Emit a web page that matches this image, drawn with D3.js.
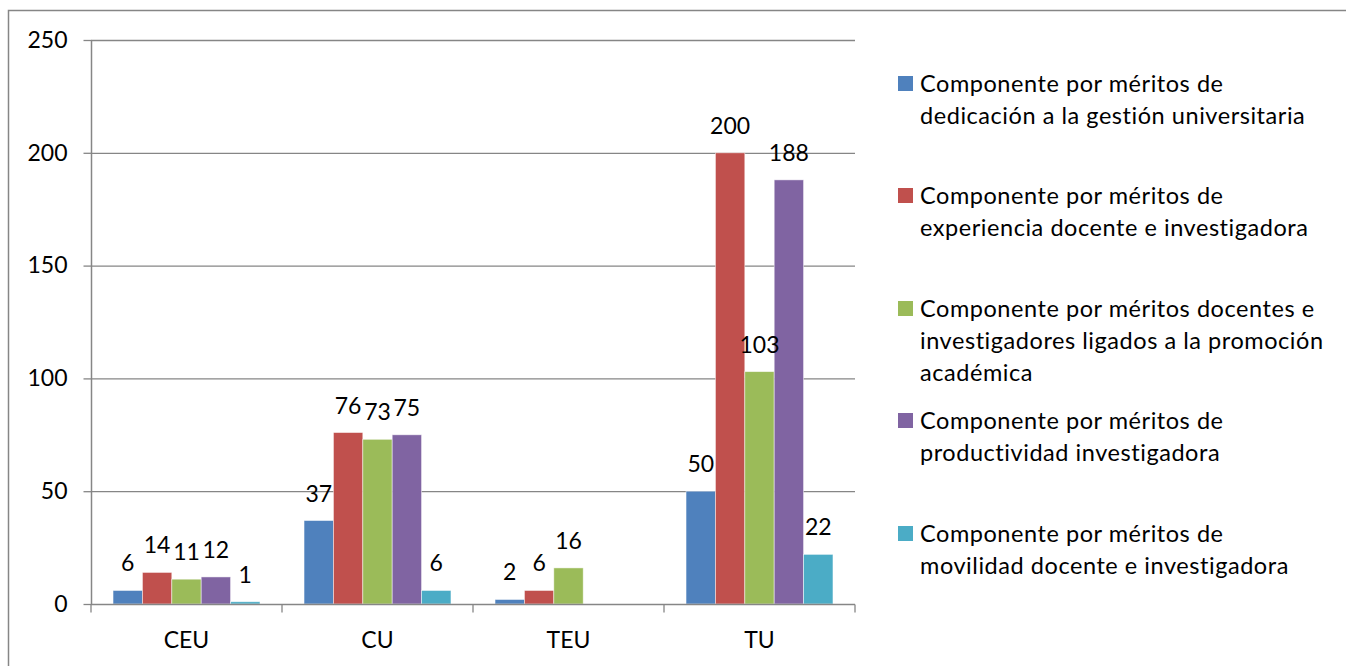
<!DOCTYPE html>
<html><head><meta charset="utf-8">
<script src="https://cdn.jsdelivr.net/npm/d3@7"></script>
<style>body{margin:0;background:#fff}svg{display:block}text{font-family:Lato,"Open Sans",sans-serif;fill:#000}</style>
</head><body><svg id="c" width="1346" height="666"></svg>
<script>
const categories = ["CEU","CU","TEU","TU"];
const seriesNames = [
  "Componente por méritos de\ndedicación a la gestión universitaria",
  "Componente por méritos de\nexperiencia docente e investigadora",
  "Componente por méritos docentes e\ninvestigadores ligados a la promoción\nacadémica",
  "Componente por méritos de\nproductividad investigadora",
  "Componente por méritos de\nmovilidad docente e investigadora"
];
const dedicacion    = [6, 37, 2, 50];
const experiencia   = [14, 76, 6, 200];
const docentes      = [11, 73, 16, 103];
const productividad = [12, 75, null, 188];
const movilidad     = [1, 6, null, 22];
const seriesValues = [dedicacion, experiencia, docentes, productividad, movilidad];
const yTicks = [0, 50, 100, 150, 200, 250];
const colors = ["#4F81BD","#C0504D","#9BBB59","#8064A2","#4BACC6"];

const svg = d3.select("#c");
svg.append("rect").attr("x",8.5).attr("y",10.5).attr("width",1400).attr("height",700)
  .attr("fill","none").attr("stroke","#868686").attr("stroke-width",1.5);

const L=91, R=855, T=40, B=604;
const FS = 23;
const x = d3.scaleBand().domain(categories).range([L,R]).paddingInner(0).paddingOuter(0);
const xs = d3.scaleBand().domain(d3.range(5)).range([0,x.bandwidth()]).paddingInner(0).paddingOuter(0.75);
const y = d3.scaleLinear().domain([0,250]).range([B,T]);

// gridlines
svg.append("g").selectAll("line").data(yTicks.filter(d=>d>0)).join("line")
  .attr("x1",L).attr("x2",R).attr("y1",d=>y(d)+0.5).attr("y2",d=>y(d)+0.5)
  .attr("stroke","#868686").attr("stroke-width",1.3);

// bars
const data = [];
categories.forEach((c,i)=>seriesValues.forEach((s,j)=>{ if(s[i]!=null) data.push({c,j,v:s[i]}); }));
svg.append("g").selectAll("rect").data(data).join("rect")
  .attr("x",d=>x(d.c)+xs(d.j)).attr("width",xs.bandwidth())
  .attr("y",d=>y(d.v)).attr("height",d=>B-y(d.v))
  .attr("fill",d=>colors[d.j]).attr("stroke","#fff").attr("stroke-opacity",0.6).attr("stroke-width",0.8);

// value labels
svg.append("g").selectAll("text").data(data).join("text")
  .attr("x",d=>x(d.c)+xs(d.j)+xs.bandwidth()/2).attr("y",d=>y(d.v)-19)
  .attr("text-anchor","middle").attr("font-size",FS).text(d=>d.v);

// y axis
const yAxis = d3.axisLeft(y).tickValues(yTicks).tickSize(8).tickPadding(16);
const gy = svg.append("g").attr("transform",`translate(${L+0.5},0)`).call(yAxis);
gy.select(".domain").attr("stroke","#868686").attr("stroke-width",1.5).attr("d",`M0,${T}V${B}`);
gy.selectAll(".tick line").attr("stroke","#868686").attr("stroke-width",1.3).attr("x1",0).attr("x2",-8);
gy.selectAll(".tick text").attr("font-size",FS).attr("font-family","Lato").attr("fill","#000");

// x axis
const gx = svg.append("g").attr("transform",`translate(0,${B+0.5})`);
gx.append("line").attr("x1",L).attr("x2",R).attr("stroke","#868686").attr("stroke-width",1.5);
gx.selectAll(".tk").data(d3.range(categories.length+1)).join("line")
  .attr("x1",i=>L+i*x.step()).attr("x2",i=>L+i*x.step()).attr("y1",0).attr("y2",8)
  .attr("stroke","#868686").attr("stroke-width",1.3);
gx.selectAll("text").data(categories).join("text")
  .attr("x",d=>x(d)+x.bandwidth()/2).attr("y",43.5).attr("text-anchor","middle").attr("font-size",FS).text(d=>d);

// legend
const legY = [91.5, 203.5, 316.5, 428.5, 541.5];
const lg = svg.append("g");
seriesNames.forEach((n,i)=>{
  const g = lg.append("g").attr("transform",`translate(898,${legY[i]})`);
  g.append("rect").attr("x",0).attr("y",-15.5).attr("width",15).attr("height",15).attr("fill",colors[i]);
  const t = g.append("text").attr("x",22).attr("y",0).attr("font-size",23.5).attr("letter-spacing",0.55);
  n.split("\n").forEach((ln,k)=>t.append("tspan").attr("x",22).attr("dy",k?32:0).text(ln));
});
</script></body></html>
